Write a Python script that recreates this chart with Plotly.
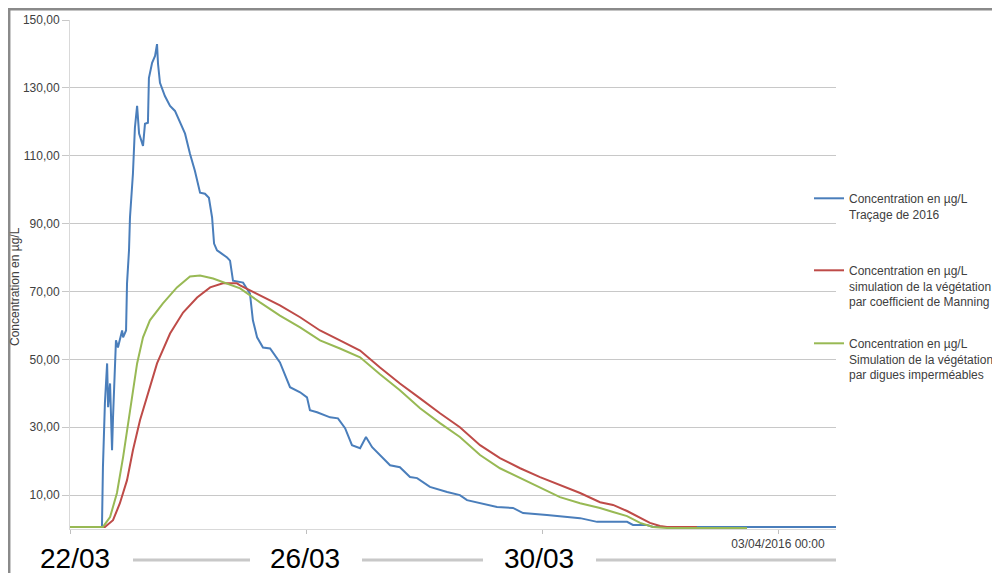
import pandas as pd
import plotly.graph_objects as go

# ---- data (hours since 22/03/2016 00:00, concentration in µg/L) ----
start = pd.Timestamp("2016-03-22 00:00")

tracage_hours = [0, 13.0, 13.4, 14.2, 15.1, 15.5, 16.3, 17.1, 17.5, 17.9, 18.7, 19.5, 21.2, 21.6,
                 22.8, 23.2, 24.0, 24.4, 25.6, 26.4, 27.3, 28.1, 28.9, 29.7, 30.5, 31.7, 32.1,
                 33.4, 34.6, 35.4, 35.8, 36.6, 38.6, 40.7, 42.7, 44.7, 46.8, 48.8, 50.8, 52.9,
                 54.9, 56.5, 57.8, 58.6, 59.8, 61.0, 63.9, 65.1, 66.3, 70.4, 73.2, 74.4, 76.1,
                 78.5, 81.4, 85.4, 88.3, 89.5, 93.6, 96.4, 97.6, 100.5, 105.8, 109.0, 111.9,
                 114.7, 118.0, 120.4, 122.9, 126.1, 130.2, 134.2, 138.3, 141.2, 146.4, 153.4,
                 158.6, 161.5, 166.8, 173.7, 180.2, 184.3, 194.0, 207.5, 214.4, 226.6, 229.0,
                 234.7, 237.2, 311.6]
tracage_conc = [0.6, 0.6, 18.2, 37.1, 48.8, 35.9, 42.9, 23.2, 32.9, 40.9, 55.6, 53.5, 58.5, 56.5,
                58.5, 72.4, 82.1, 91.8, 104.7, 118.2, 124.7, 116.5, 114.4, 112.9, 119.4, 119.7,
                132.9, 137.4, 139.4, 142.9, 137.1, 131.5, 127.6, 124.7, 123.2, 119.7, 116.5,
                110.6, 105.6, 99.1, 98.8, 97.6, 91.8, 84.1, 82.1, 81.5, 80.0, 79.1, 73.2, 72.6,
                69.4, 61.5, 56.5, 53.5, 53.2, 49.1, 43.8, 41.8, 40.3, 38.8, 35.0, 34.4, 32.9,
                32.6, 29.7, 24.7, 23.8, 27.1, 24.1, 21.8, 18.8, 18.2, 15.3, 15.0, 12.4, 10.9,
                10.0, 8.5, 7.6, 6.5, 6.2, 4.7, 4.1, 3.2, 2.1, 2.1, 1.2, 1.2, 0.6, 0.6]

manning_hours = [0, 14.2, 17.5, 20.3, 23.2, 25.6, 28.5, 31.3, 35.4, 40.7, 46.0, 51.7, 57.0, 62.2,
                 67.9, 69.2, 77.3, 85.4, 93.6, 101.7, 109.8, 118.0, 126.1, 134.2, 142.4, 150.5,
                 158.6, 166.8, 174.9, 183.1, 191.2, 199.3, 207.5, 215.6, 220.9, 226.6, 231.9,
                 235.9, 240.0, 242.8, 255.0]
manning_conc = [0.6, 0.6, 2.6, 7.6, 14.4, 23.2, 32.1, 38.8, 48.8, 57.6, 63.8, 68.2, 71.2, 72.4,
                72.4, 71.8, 68.8, 65.9, 62.4, 58.5, 55.6, 52.6, 47.6, 42.9, 38.5, 34.1, 30.0,
                24.7, 20.9, 17.9, 15.3, 12.9, 10.6, 7.9, 7.1, 5.3, 3.2, 1.8, 0.9, 0.6, 0.6]

digues_hours = [0, 13.4, 16.3, 19.1, 21.6, 24.4, 27.3, 29.7, 32.5, 37.8, 43.5, 48.8, 52.9, 58.2,
                63.9, 69.2, 77.3, 85.4, 93.6, 101.7, 109.8, 118.0, 126.1, 134.2, 142.4, 150.5,
                158.6, 166.8, 174.9, 183.1, 191.2, 199.3, 207.5, 215.6, 220.9, 226.6, 231.9,
                237.2, 242.8, 275.4]
digues_conc = [0.6, 0.6, 3.5, 10.6, 21.2, 35.0, 48.8, 56.5, 61.5, 66.5, 71.2, 74.4, 74.7, 73.8,
               72.4, 70.9, 66.8, 62.9, 59.4, 55.6, 53.2, 50.6, 45.6, 40.9, 35.6, 31.2, 27.1,
               21.8, 17.9, 15.0, 12.1, 9.4, 7.6, 6.2, 5.0, 3.8, 1.8, 0.6, 0.3, 0.3]

series_names = [
    "Concentration en µg/L<br>Traçage de 2016",
    "Concentration en µg/L<br>simulation de la végétation<br>par coefficient de Manning",
    "Concentration en µg/L<br>Simulation de la végétation<br>par digues imperméables",
]
series_colors = ["#4A7EBB", "#BE4B48", "#98B954"]

y_tick_values = [10, 30, 50, 70, 90, 110, 130, 150]
y_tick_labels = ["10,00", "30,00", "50,00", "70,00", "90,00", "110,00", "130,00", "150,00"]
x_tick_values = ["2016-03-22", "2016-03-26", "2016-03-30", "2016-04-03"]
x_tick_labels = ["", "", "", "03/04/2016 00:00"]
date_labels = ["22/03", "26/03", "30/03"]

SMALL = dict(family="Liberation Sans, Arial, sans-serif", size=12, color="#404040")


def times(hours):
    return start + pd.to_timedelta(hours, unit="h")


fig = go.Figure()
data = [(tracage_hours, tracage_conc), (manning_hours, manning_conc), (digues_hours, digues_conc)]
legends = ["legend", "legend2", "legend3"]
for (h, c), name, col, lg in zip(data, series_names, series_colors, legends):
    fig.add_trace(go.Scatter(x=times(h), y=c, mode="lines", name=name, showlegend=True,
                             line=dict(color=col, width=2), legend=lg))

# page is offset by the 8px body margin; plot area in page pixels: x 70..836, y 20..529
OFF = 8
PX_L, PX_R, PX_T, PX_B = 70, 836, 20, 529
W, H = 1000 - OFF, 576 - OFF


def px(xp):
    return (xp - PX_L) / (PX_R - PX_L)


def py(yp):
    return (PX_B - yp) / (PX_B - PX_T)


def cx(xp):
    return (xp - OFF) / W


def cy(yp):
    return 1 - (yp - OFF) / H


legend_common = dict(font=SMALL, bgcolor="rgba(0,0,0,0)", borderwidth=0, valign="top",
                     xanchor="left", yanchor="top", itemwidth=30,
                     xref="container", yref="container")
fig.update_layout(
    showlegend=True,
    legend=dict(x=cx(809), y=cy(184), **legend_common),
    legend2=dict(x=cx(809), y=cy(256), **legend_common),
    legend3=dict(x=cx(809), y=cy(329), **legend_common),
)

fig.update_layout(
    width=W, height=H,
    margin=dict(l=PX_L - OFF, r=1000 - PX_R, t=PX_T - OFF, b=576 - PX_B, autoexpand=False),
    paper_bgcolor="white", plot_bgcolor="white",
    font=SMALL,
    xaxis=dict(range=[start, start + pd.Timedelta(hours=(PX_R - PX_L) / 59 * 24)],
               tickvals=x_tick_values, ticktext=x_tick_labels,
               showgrid=False, showline=True, linecolor="#d9d9d9", linewidth=1,
               ticks="outside", ticklen=4, tickcolor="#bfbfbf",
               tickfont=SMALL, zeroline=False),
    yaxis=dict(range=[0, 150], tickvals=y_tick_values, ticktext=y_tick_labels,
               showgrid=True, gridcolor="#c8c8c8", gridwidth=1,
               showline=True, linecolor="#d9d9d9", linewidth=1,
               ticks="outside", ticklen=7, tickcolor="#c8c8c8",
               tickfont=SMALL, zeroline=False),
)

annotations = [
    dict(text="Concentration en µg/L", textangle=-90, x=px(15), y=py(287),
         xref="paper", yref="paper", showarrow=False, font=SMALL,
         xanchor="center", yanchor="middle"),
]
big_font = dict(family="Liberation Sans, Arial, sans-serif", size=28, color="black")
for lbl, xc in zip(date_labels, [75, 305, 539]):
    annotations.append(dict(text=lbl, x=px(xc), y=py(558), xref="paper", yref="paper",
                            showarrow=False, font=big_font, xanchor="center", yanchor="middle"))
fig.update_layout(annotations=annotations)

shapes = []
for x0, x1 in [(133, 250), (362, 483), (596, 836)]:
    shapes.append(dict(type="line", xref="paper", yref="paper", x0=px(x0), x1=px(x1),
                       y0=py(560), y1=py(560), line=dict(color="#c8c8c8", width=3)))
# outer frame (top and left)
shapes.append(dict(type="line", xref="paper", yref="paper", x0=px(OFF), x1=px(1000),
                   y0=py(OFF + 1.2), y1=py(OFF + 1.2), line=dict(color="#8a8a8a", width=2.5)))
shapes.append(dict(type="line", xref="paper", yref="paper", x0=px(OFF + 1.2), x1=px(OFF + 1.2),
                   y0=py(OFF), y1=py(573), line=dict(color="#8a8a8a", width=2.5)))
fig.update_layout(shapes=shapes)

fig.write_html("out.html")
